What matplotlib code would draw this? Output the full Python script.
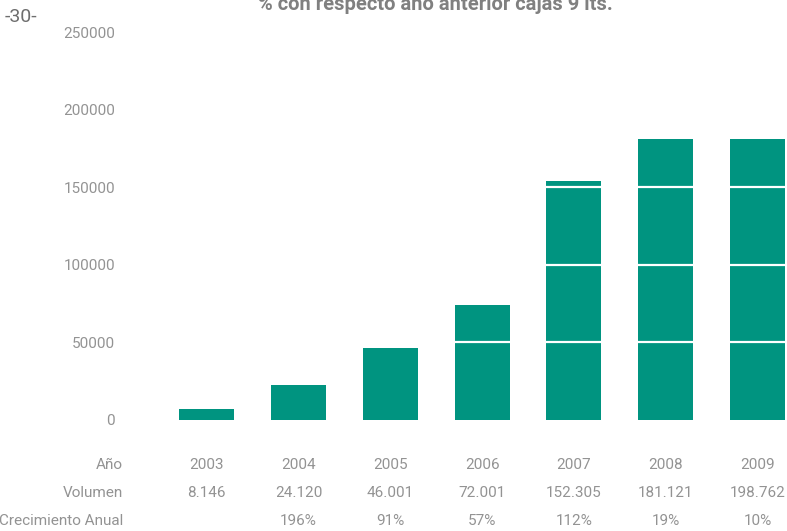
import numpy as np
import matplotlib
matplotlib.use("Agg")
import matplotlib.pyplot as plt
import matplotlib.transforms as mtransforms

# ---------------------------------------------------------------------
# DATA
# ---------------------------------------------------------------------
years = ["2003", "2004", "2005", "2006", "2007", "2008", "2009"]
bar_heights = [7000, 22000, 46000, 74000, 154000, 181000, 181000]
volumen = ["8.146", "24.120", "46.001", "72.001", "152.305", "181.121", "198.762"]
crecimiento = ["", "196%", "91%", "57%", "112%", "19%", "10%"]
yticks = [0, 50000, 100000, 150000, 200000, 250000]
row_labels = ["Año", "Volumen", "Crecimiento Anual"]

title = "% con respecto año anterior cajas 9 lts."
page = "-30-"

BAR = "#009480"
GREY = "#939393"
TITLE_GREY = "#808080"

plt.rcParams["font.family"] = ["Roboto", "DejaVu Sans"]

W, H = 787, 531
fig = plt.figure(figsize=(W / 100, H / 100), dpi=100)

# axes placed in pixel units of the reference
left, right, top, bottom = 130, 787, 32, 419.5
ax = fig.add_axes([left / W, 1 - bottom / H, (right - left) / W, (bottom - top) / H])

x = np.arange(len(years))
ax.bar(x, bar_heights, width=0.6, color=BAR, zorder=2)

ax.set_xlim(-0.837, 6.322)
ax.set_ylim(0, 250000)
ax.set_yticks(yticks)
ax.set_yticklabels([str(t) for t in yticks])
ax.tick_params(axis="y", length=0, pad=10.8, labelsize=11, labelcolor=GREY)
ax.set_xticks([])

# white gridlines over the bars
for t in yticks[1:-1]:
    ax.axhline(t, color="white", linewidth=1.6, zorder=3)

for s in ax.spines.values():
    s.set_visible(False)

# table under the chart
trans = mtransforms.blended_transform_factory(ax.transData, fig.transFigure)
row_y = [465, 493, 521]
rows = [years, volumen, crecimiento]
for ry, lab, vals in zip(row_y, row_labels, rows):
    fy = 1 - ry / H
    fig.text(123 / W, fy, lab, ha="right", va="center", fontsize=11, color=GREY)
    for xi, v in zip(x, vals):
        ax.text(xi, fy, v, transform=trans, ha="center", va="center",
                fontsize=11, color=GREY, clip_on=False)

fig.text(435 / W, 1 - 10 / H, title, ha="center", va="baseline",
         fontsize=14.5, color=TITLE_GREY, fontweight="bold")
fig.text(5 / W, 1 - 17 / H, page, ha="left", va="center",
         fontsize=14, color="#6e6e6e")

fig.savefig("out.png", dpi=100)
